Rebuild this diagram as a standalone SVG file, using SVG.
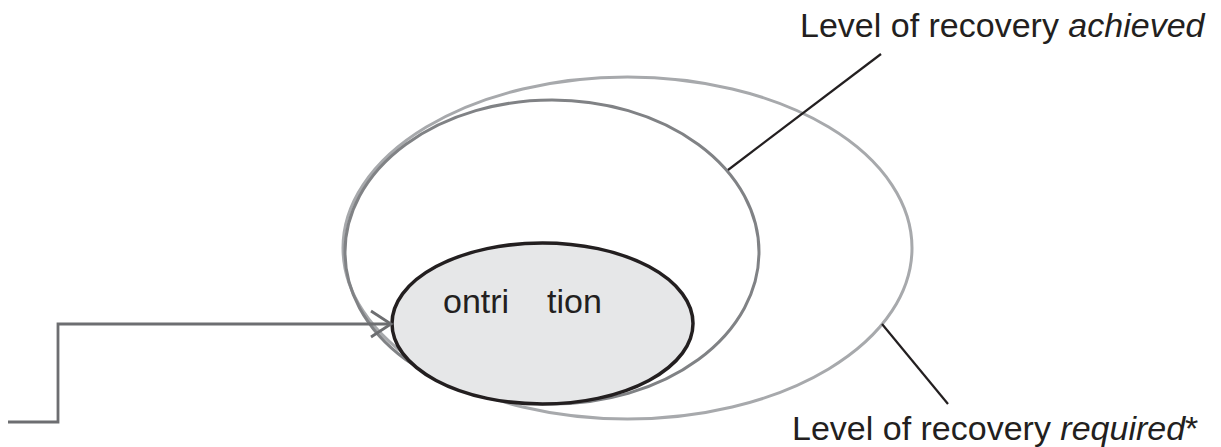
<svg xmlns="http://www.w3.org/2000/svg" width="1221" height="447" viewBox="0 0 1221 447">
<style>
.lbl{font-family:"Liberation Sans",Arial,sans-serif;font-size:34px;fill:#231f20}
.it{font-style:italic}
.lead{stroke:#231f20;stroke-width:2.2;fill:none}
.conn{stroke:#6d6e71;stroke-width:2.8;fill:none}
</style>
<rect width="1221" height="447" fill="#ffffff"/>
<g id="required">
<ellipse cx="627.5" cy="248" rx="284.5" ry="171" fill="none" stroke="#a7a9ac" stroke-width="3"/>
</g>
<g id="achieved">
<ellipse cx="552" cy="252" rx="207" ry="152" fill="none" stroke="#808285" stroke-width="3"/>
</g>
<g id="contribution">
<ellipse cx="542.5" cy="323.5" rx="150.5" ry="80.5" fill="#e6e7e8" stroke="#231f20" stroke-width="3.5"/>
<text class="lbl" y="313"><tspan x="443">ontri</tspan><tspan x="547">tion</tspan></text>
</g>
<g id="connectors">
<polyline class="conn" points="8,422 58,422 58,324 391,324"/>
<polyline class="conn" points="371,311 391,324 371,337"/>
<line class="lead" x1="881" y1="54" x2="728" y2="170"/>
<line class="lead" x1="882" y1="324" x2="948" y2="404"/>
</g>
<g id="label-achieved">
<text class="lbl" x="800" y="37">Level of recovery <tspan class="it">achieved</tspan></text>
</g>
<g id="label-required">
<text class="lbl" x="792" y="440">Level of recovery <tspan class="it">required</tspan>*</text>
</g>
</svg>
